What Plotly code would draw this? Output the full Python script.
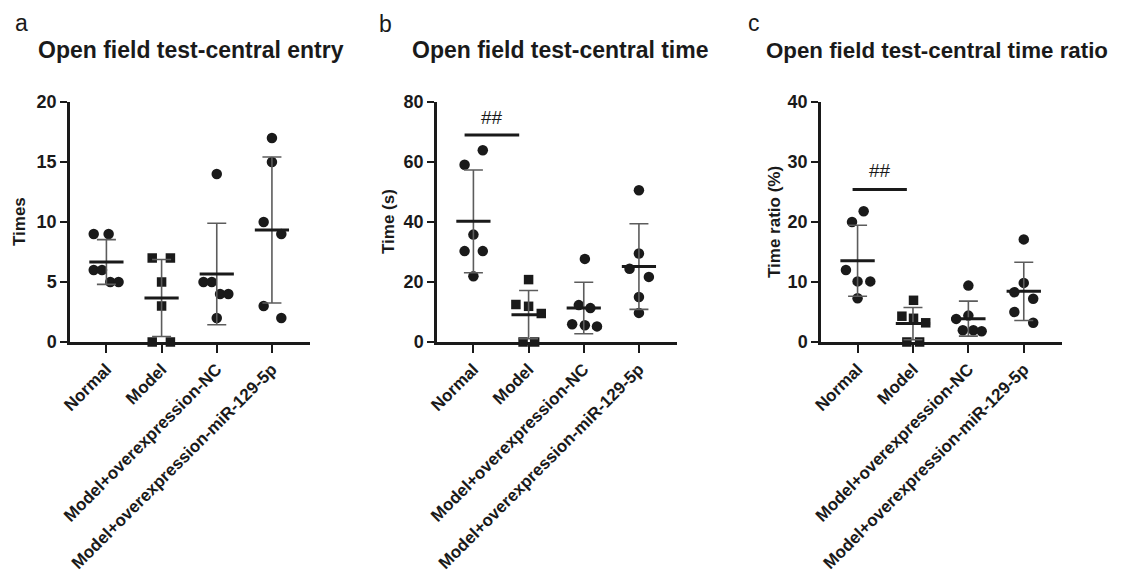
import numpy as np
import plotly.graph_objects as go

# ---------------- data ----------------
groups = ["Normal", "Model", "Model+overexpression-NC", "Model+overexpression-miR-129-5p"]

# panel a: central entry (times)
entry_normal = [9, 9, 6, 6, 5, 5]
entry_model = [7, 7, 5, 3, 0, 0]
entry_nc = [14, 5, 5, 4, 4, 2]
entry_mir = [17, 15, 10, 9, 3, 2]

# panel b: central time (s)
time_normal = [63.9, 59.1, 35.8, 30.3, 30.3, 21.9]
time_model = [20.8, 12.5, 11.9, 9.5, 0, 0]
time_nc = [27.7, 12.3, 11.3, 5.9, 5.6, 5.2]
time_mir = [50.6, 29.5, 24.4, 21.7, 15.0, 9.7]

# panel c: central time ratio (%)
ratio_normal = [21.8, 20.0, 12.0, 10.1, 10.1, 7.3]
ratio_model = [6.95, 4.3, 3.95, 3.2, 0, 0]
ratio_nc = [9.4, 4.4, 3.85, 1.95, 1.95, 1.8]
ratio_mir = [17.1, 9.85, 8.3, 7.2, 5.0, 3.2]

# horizontal scatter of the dots (category units)
jit_a = [[-0.23, 0.04, -0.23, -0.08, 0.07, 0.22],
         [-0.17, 0.16, 0.0, 0.0, -0.17, 0.16],
         [0.0, -0.24, -0.09, 0.06, 0.21, 0.0],
         [0.0, 0.0, -0.15, 0.17, -0.15, 0.17]]
jit_b = [[0.17, -0.16, 0.0, -0.16, 0.17, 0.0],
         [0.0, -0.23, 0.0, 0.23, -0.10, 0.11],
         [0.02, -0.09, 0.12, -0.21, 0.02, 0.24],
         [0.0, 0.0, -0.17, 0.18, 0.0, 0.0]]
jit_c = [[0.11, -0.10, -0.21, 0.0, 0.23, 0.0],
         [0.01, -0.20, 0.01, 0.23, -0.11, 0.12],
         [0.0, 0.0, -0.22, -0.10, 0.09, 0.24],
         [0.0, 0.0, -0.17, 0.17, -0.17, 0.17]]

panel_letters = ["a", "b", "c"]
panel_titles = ["Open field test-central entry", "Open field test-central time",
                "Open field test-central time ratio"]
y_titles = ["Times", "Time (s)", "Time ratio (%)"]
y_ticks = [[0, 5, 10, 15, 20], [0, 20, 40, 60, 80], [0, 10, 20, 30, 40]]

# significance marks (panel b and c): Normal vs Model
sig_text = "##"
sig_b = dict(x0=-0.16, x1=0.83, y=69, ty=75, tx=0.34)
sig_c = dict(x0=-0.09, x1=0.89, y=25.4, ty=28.6, tx=0.40)

# ---------------- style ----------------
PAGE_W, PAGE_H = 1124, 586
BODY = 8                      # default page margin around the plot div
W, H = PAGE_W - 2 * BODY, PAGE_H - 2 * BODY


def px_x(px):
    return (px - BODY) / W


def px_y(py):
    return 1 - (py - BODY) / H


BLACK = "#1a1a1a"
GRAY = "#5c5c5c"
FONT = "Liberation Sans, Arial, sans-serif"
x_dom = [(70, 310), (437, 677), (821, 1062)]
y_bottom_px, y_top_px = 342, 102
y_dom = [px_y(y_bottom_px), px_y(y_top_px)]
x_range = [-0.66, 3.69]
MEAN_HALF = 0.31
ytitle_px = [19, 388, 774]
letter_px = [(21, 23), (385, 24), (754, 23)]
title_px = [36, 410, 764]
title_size = [23, 23, 22.3]

panels = [
    ([entry_normal, entry_model, entry_nc, entry_mir], jit_a, None),
    ([time_normal, time_model, time_nc, time_mir], jit_b, sig_b),
    ([ratio_normal, ratio_model, ratio_nc, ratio_mir], jit_c, sig_c),
]

fig = go.Figure()
annotations = []
for p, (vals, jit, sig) in enumerate(panels):
    xa = "x" if p == 0 else f"x{p+1}"
    ya = "y" if p == 0 else f"y{p+1}"
    means = [float(np.mean(v)) for v in vals]
    sds = [float(np.std(v, ddof=1)) for v in vals]
    # points
    for g, v in enumerate(vals):
        fig.add_trace(go.Scatter(
            x=[g + j for j in jit[g]], y=v, mode="markers", xaxis=xa, yaxis=ya,
            marker=dict(symbol="square" if g == 1 else "circle",
                        size=9.5 if g == 1 else 10.5, color=BLACK, line=dict(width=0)),
            cliponaxis=False, showlegend=False, hoverinfo="skip"))
    # SD error bars
    fig.add_trace(go.Scatter(
        x=list(range(4)), y=means, mode="markers", xaxis=xa, yaxis=ya,
        marker=dict(size=1, color="rgba(0,0,0,0)"),
        error_y=dict(type="data", array=sds, color=GRAY, thickness=1.6, width=9.5),
        cliponaxis=False, showlegend=False, hoverinfo="skip"))
    # mean lines
    mx, my = [], []
    for g, m in enumerate(means):
        mx += [g - MEAN_HALF, g + MEAN_HALF, None]
        my += [m, m, None]
    fig.add_trace(go.Scatter(x=mx, y=my, mode="lines", xaxis=xa, yaxis=ya,
                             line=dict(color=BLACK, width=3), cliponaxis=False,
                             showlegend=False, hoverinfo="skip"))
    if sig is not None:
        fig.add_trace(go.Scatter(x=[sig["x0"], sig["x1"]], y=[sig["y"], sig["y"]],
                                 mode="lines", xaxis=xa, yaxis=ya,
                                 line=dict(color=BLACK, width=3),
                                 showlegend=False, hoverinfo="skip"))
        annotations.append(dict(x=sig["tx"], y=sig["ty"], xref=xa, yref=ya, text=sig_text,
                                showarrow=False, font=dict(family=FONT, size=19, color=BLACK)))

    dom = [px_x(x_dom[p][0]), px_x(x_dom[p][1])]
    xkey = "xaxis" if p == 0 else f"xaxis{p+1}"
    ykey = "yaxis" if p == 0 else f"yaxis{p+1}"
    fig.layout[xkey] = dict(
        domain=dom, anchor=ya, range=x_range, tickmode="array", tickvals=list(range(4)),
        ticktext=groups, tickangle=-45, ticks="outside", ticklen=8, tickwidth=2,
        tickcolor=BLACK, showline=True, linewidth=2.5, linecolor=BLACK, showgrid=False,
        zeroline=False, layer="below traces", automargin=False,
        tickfont=dict(family=FONT, size=17, color=BLACK, weight="bold"))
    fig.layout[ykey] = dict(
        domain=y_dom, anchor=xa, range=[y_ticks[p][0], y_ticks[p][-1]], tickmode="array",
        tickvals=y_ticks[p], ticks="outside", ticklen=7, tickwidth=2, tickcolor=BLACK,
        showline=True, linewidth=2.5, linecolor=BLACK, showgrid=False, zeroline=False,
        layer="below traces", automargin=False,
        tickfont=dict(family=FONT, size=18, color=BLACK, weight="bold"))

    # y-axis title
    annotations.append(dict(x=px_x(ytitle_px[p]), y=(y_dom[0] + y_dom[1]) / 2, xref="paper",
                            yref="paper", text=y_titles[p], textangle=-90, showarrow=False,
                            xanchor="center", yanchor="middle",
                            font=dict(family=FONT, size=17, color=BLACK, weight="bold")))
    # panel letter
    annotations.append(dict(x=px_x(letter_px[p][0]), y=px_y(letter_px[p][1]), xref="paper",
                            yref="paper", text=panel_letters[p], showarrow=False,
                            xanchor="center", yanchor="middle",
                            font=dict(family=FONT, size=23, color=BLACK)))
    # panel title
    annotations.append(dict(x=px_x(title_px[p]), y=px_y(50), xref="paper", yref="paper",
                            text=panel_titles[p], showarrow=False, xanchor="left",
                            yanchor="middle",
                            font=dict(family=FONT, size=title_size[p], color=BLACK,
                                      weight="bold")))

fig.update_layout(width=W, height=H, margin=dict(l=0, r=0, t=0, b=0, autoexpand=False),
                  template="none",
                  paper_bgcolor="white", plot_bgcolor="white", showlegend=False,
                  annotations=annotations)
fig.write_html("out.html")
